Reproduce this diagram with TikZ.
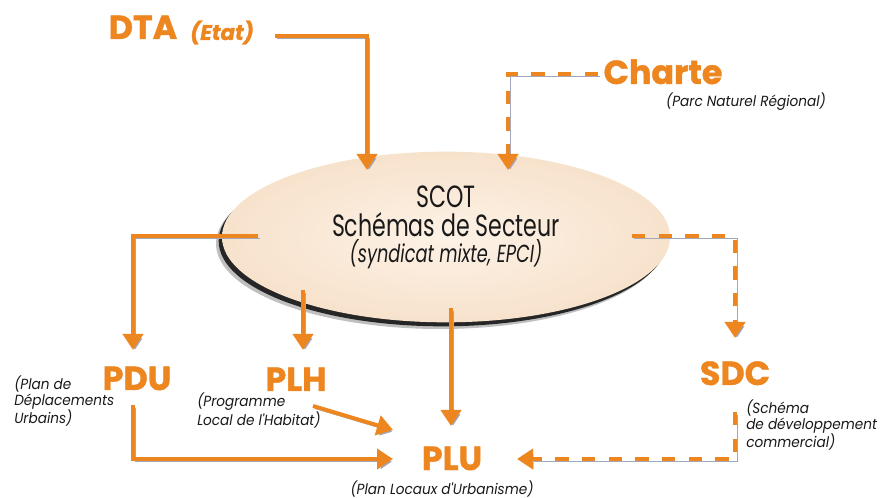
\documentclass[tikz,border=0pt]{standalone}
\usepackage{fontspec}
\setmainfont{Poppins}
\newfontfamily\fut{Poppins}[FakeStretch=0.72]
\newfontfamily\subf{Poppins}[FakeStretch=0.93]
\newfontfamily\heavy{Poppins}[FakeBold=1.2]
\usetikzlibrary{arrows.meta,shapes.geometric,shadows}
\definecolor{orng}{RGB}{238,134,32}
\definecolor{shdc}{RGB}{140,145,170}
\definecolor{peach}{RGB}{247,226,204}
\definecolor{cream}{RGB}{253,242,230}
\definecolor{ink}{RGB}{25,25,25}
\begin{document}
\begin{tikzpicture}[x=0.75pt,y=-0.75pt,
  big/.style={font=\heavy\bfseries\fontsize{25pt}{25pt}\selectfont, text=orng, inner sep=0pt, anchor=base},
  sub/.style={font=\subf\itshape\fontsize{11pt}{12pt}\selectfont, text=ink, inner sep=0pt, align=left},
  scottext/.style={text=ink, inner sep=0pt, anchor=base},
  arr/.style={draw=orng, line width=3pt, -{Triangle[width=15pt,length=12pt]},
    preaction={draw=shdc!80, transform canvas={xshift=1.5pt,yshift=-2pt}}},
  darr/.style={arr, dash pattern=on 10pt off 10pt},
  scotshape/.style={ellipse, minimum width=336pt, minimum height=128pt, inner sep=0pt,
    inner color=cream, outer color=peach,
    general shadow={fill=black!25, shadow xshift=-4.5pt, shadow yshift=-5pt},
    general shadow={fill=black!85, shadow xshift=-2.5pt, shadow yshift=-3pt}}
]
\fill[white] (0,0) rectangle (892,498);
\useasboundingbox (0,0) rectangle (892,498);

% central ellipse
\node[scotshape] (scot) at (446,237) {};
\node[scottext, font=\fut\fontsize{23pt}{23pt}\selectfont] (scot1) at (446,208) {SCOT};
\node[scottext, font=\fut\fontsize{23pt}{23pt}\selectfont] (scot2) at (446,237) {Schémas de Secteur};
\node[scottext, font=\fut\itshape\fontsize{18.5pt}{18.5pt}\selectfont] (scot3) at (446,263) {(syndicat mixte, EPCI)};

% labels
\node[big] (dta) at (143,39) {DTA};
\node[big, font=\heavy\bfseries\itshape\fontsize{16pt}{16pt}\selectfont] (etat) at (222,40) {(Etat)};
\node[big] (charte) at (663,84) {Charte};
\node[sub, anchor=base] (parc) at (746,107) {(Parc Naturel Régional)};
\node[big] (pdu) at (137,390) {PDU};
\node[big] (plh) at (296,391) {PLH};
\node[big] (sdc) at (735,385) {SDC};
\node[big] (plu) at (452,470) {PLU};
\node[sub, anchor=west] (pdusub) at (14,401) {(Plan de\\Déplacements\\Urbains)};
\node[sub, anchor=west] (plhsub) at (197,411) {(Programme\\Local de l'Habitat)};
\node[sub, anchor=west] (sdcsub) at (746,425) {(Schéma\\de développement\\commercial)};
\node[sub, anchor=base] (plusub) at (442,494) {(Plan Locaux d'Urbanisme)};

% connectors
\coordinate (dtaout) at (275,36);
\coordinate (dtain) at (367,170);
\coordinate (chout) at (598,74);
\coordinate (chin) at (508,170);
\coordinate (pduout) at (258,236);
\coordinate (pduin) at (133,350);
\coordinate (plhout) at (303,290);
\coordinate (plhin) at (303,350);
\coordinate (pluout) at (451,308);
\coordinate (pluin) at (451,426);
\coordinate (sdcout) at (632,236);
\coordinate (sdcin) at (735,338);
\coordinate (pduplu) at (133,405);
\coordinate (pluwest) at (393,459);
\coordinate (plhplu) at (313,406);
\coordinate (pluwestb) at (393,430);
\coordinate (sdcplu) at (735,412);
\coordinate (plueast) at (517,459);

\draw[arr] (dtaout) -| (dtain);
\draw[darr] (chout) -| (chin);
\draw[arr] (pduout) -| (pduin);
\draw[arr] (plhout) -- (plhin);
\draw[arr] (pluout) -- (pluin);
\draw[darr] (sdcout) -| (sdcin);
\draw[arr] (pduplu) |- (pluwest);
\draw[arr] (plhplu) -- (pluwestb);
\draw[darr] (sdcplu) |- (plueast);
\end{tikzpicture}
\end{document}
